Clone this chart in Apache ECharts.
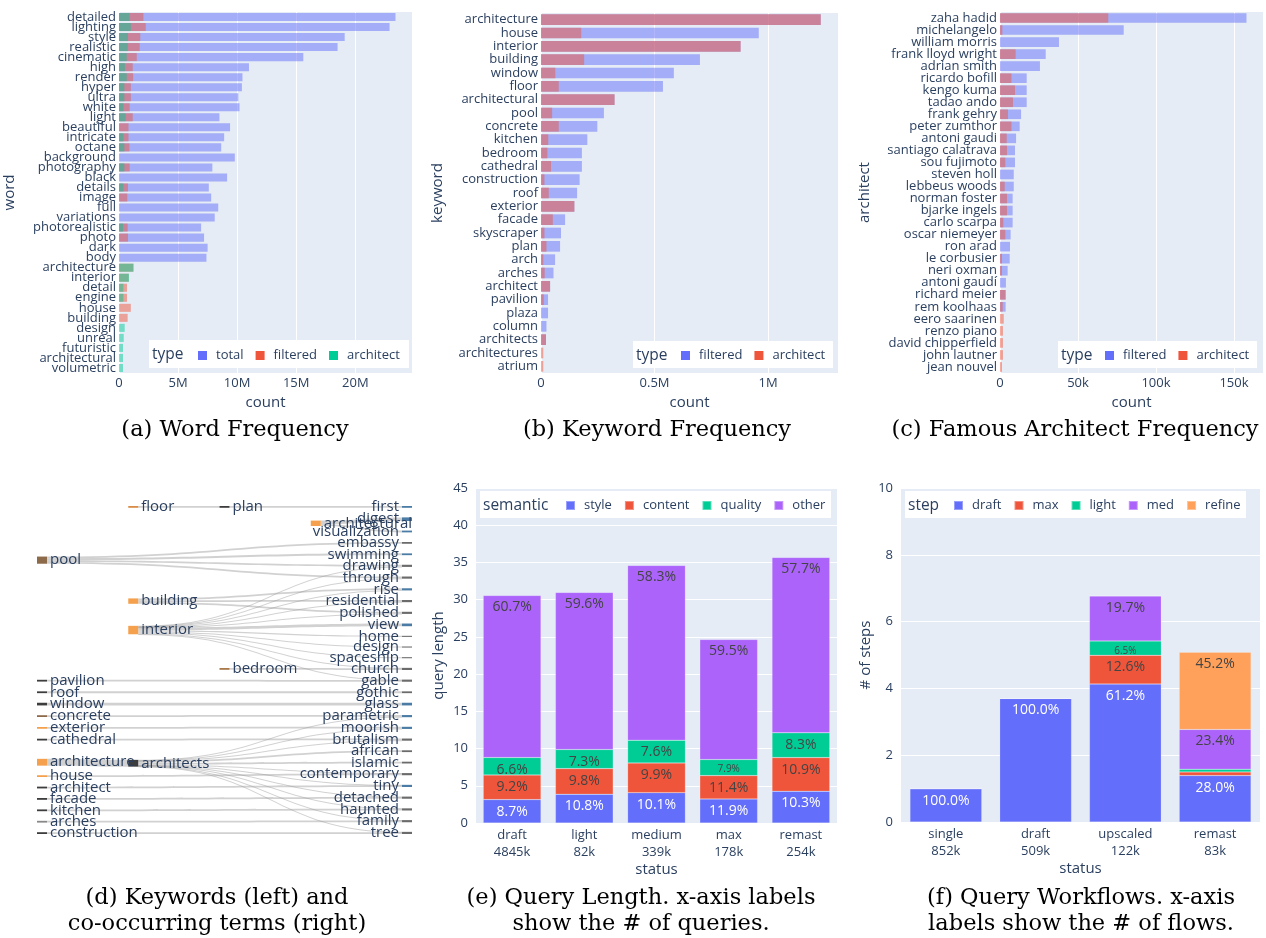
<!DOCTYPE html>
<html>
<head>
<meta charset="utf-8">
<script src="https://cdn.jsdelivr.net/npm/echarts@6/dist/echarts.min.js"></script>
<style>
  html, body { margin: 0; padding: 0; background: #fff; }
  #chart { width: 1266px; height: 938px; }
</style>
</head>
<body>
<div id="chart"></div>
<script>
// (a) word frequency, values in millions
var words = ['detailed', 'lighting', 'style', 'realistic', 'cinematic', 'high', 'render', 'hyper', 'ultra', 'white',
  'light', 'beautiful', 'intricate', 'octane', 'background', 'photography', 'black', 'details', 'image', 'full',
  'variations', 'photorealistic', 'photo', 'dark', 'body', 'architecture', 'interior', 'detail', 'engine', 'house',
  'building', 'design', 'unreal', 'futuristic', 'architectural', 'volumetric'];
var wordTotal = [23.4, 22.9, 19.1, 18.5, 15.6, 11.0, 10.45, 10.4, 10.1, 10.2,
  8.5, 9.4, 8.9, 8.65, 9.8, 7.9, 9.15, 7.6, 7.8, 8.4,
  8.1, 6.95, 7.2, 7.5, 7.4, 0, 0, 0, 0, 0,
  0, 0, 0, 0, 0, 0];
var wordFiltered = [2.06, 2.26, 1.8, 1.75, 1.5, 1.16, 1.19, 1.0, 1.0, 0.9,
  1.16, 0.8, 0.8, 0.88, 0, 0.9, 0, 0.76, 0.7, 0,
  0, 0.73, 0.76, 0, 0, 1.2, 0.82, 0.68, 0.68, 1.0,
  0.73, 0, 0, 0, 0, 0];
var wordArchitect = [0.9, 1.0, 0.76, 0.73, 0.65, 0.5, 0.65, 0.45, 0.45, 0.37,
  0.56, 0, 0.37, 0.45, 0, 0.45, 0, 0.37, 0, 0,
  0, 0.34, 0, 0, 0, 1.24, 0.85, 0.37, 0.37, 0,
  0, 0.48, 0.4, 0.34, 0.34, 0.34];

// (b) keyword frequency, values in millions
var keywords = ['architecture', 'house', 'interior', 'building', 'window', 'floor', 'architectural', 'pool', 'concrete', 'kitchen',
  'bedroom', 'cathedral', 'construction', 'roof', 'exterior', 'facade', 'skyscraper', 'plan', 'arch', 'arches',
  'architect', 'pavilion', 'plaza', 'column', 'architects', 'architectures', 'atrium'];
var kwFiltered = [1.232, 0.959, 0.879, 0.70, 0.585, 0.537, 0.324, 0.277, 0.248, 0.204,
  0.18, 0.18, 0.17, 0.159, 0.147, 0.106, 0.088, 0.084, 0.062, 0.055,
  0.04, 0.031, 0.031, 0.024, 0.022, 0, 0];
var kwArchitect = [1.232, 0.177, 0.879, 0.19, 0.063, 0.078, 0.324, 0.049, 0.078, 0.032,
  0.028, 0.044, 0.015, 0.034, 0.147, 0.052, 0.015, 0.024, 0.01, 0.016,
  0.04, 0.012, 0, 0, 0.022, 0.01, 0.01];

// (c) famous architect frequency, values in thousands
var architects = ['zaha hadid', 'michelangelo', 'william morris', 'frank lloyd wright', 'adrian smith', 'ricardo bofill',
  'kengo kuma', 'tadao ando', 'frank gehry', 'peter zumthor', 'antoni gaudi', 'santiago calatrava', 'sou fujimoto',
  'steven holl', 'lebbeus woods', 'norman foster', 'bjarke ingels', 'carlo scarpa', 'oscar niemeyer', 'ron arad',
  'le corbusier', 'neri oxman', 'antoni gaudí', 'richard meier', 'rem koolhaas', 'eero saarinen', 'renzo piano',
  'david chipperfield', 'john lautner', 'jean nouvel'];
var arFiltered = [158, 79.3, 37.8, 29.3, 25.6, 17.1, 17.1, 17.1, 13.5, 12.6,
  10.3, 9.6, 9.6, 8.8, 8.8, 8.1, 8.1, 8.1, 6.8, 6.4,
  6.2, 4.9, 3.8, 3.6, 3.6, 0, 0, 0, 0, 0];
var arArchitect = [69.4, 1.5, 0, 10, 0, 7.3, 9.6, 8.3, 5.1, 7.3,
  4.3, 4.5, 3.4, 0, 3.0, 4.5, 4.5, 2.1, 3.4, 0,
  1.3, 1.3, 0, 3.6, 1.7, 2.4, 1.9, 1.9, 1.9, 1.3];

// (d) keywords and co-occurring terms, one list per column
var coCols = [
  ['pool', 'pavilion', 'roof', 'window', 'concrete', 'exterior', 'cathedral', 'architecture', 'house',
    'architect', 'facade', 'kitchen', 'arches', 'construction'],
  ['floor', 'building', 'interior', 'architects'],
  ['plan', 'bedroom'],
  ['architectural'],
  ['first', 'digest', 'visualization', 'embassy', 'swimming', 'drawing', 'through', 'rise', 'residential',
    'polished', 'view', 'home', 'design', 'spaceship', 'church', 'gable', 'gothic', 'glass', 'parametric',
    'moorish', 'brutalism', 'african', 'islamic', 'contemporary', 'tiny', 'detached', 'haunted', 'family', 'tree']
];
var coLinks = [
  ['floor', 'plan', 1], ['plan', 'first', 1],
  ['architectural', 'digest', 2], ['architectural', 'visualization', 1],
  ['pool', 'embassy', 1], ['pool', 'swimming', 1], ['pool', 'drawing', 1], ['pool', 'through', 1],
  ['building', 'rise', 1], ['building', 'residential', 1], ['building', 'polished', 1],
  ['interior', 'view', 1.5], ['interior', 'home', 0.6], ['interior', 'design', 0.6], ['interior', 'spaceship', 0.6],
  ['interior', 'drawing', 0.2], ['interior', 'through', 0.2], ['interior', 'rise', 0.2],
  ['interior', 'residential', 0.2], ['interior', 'polished', 0.2], ['interior', 'church', 0.2], ['interior', 'gable', 0.2],
  ['bedroom', 'church', 1],
  ['pavilion', 'gable', 1], ['roof', 'gothic', 1], ['window', 'glass', 1.5], ['concrete', 'parametric', 1],
  ['exterior', 'moorish', 1], ['cathedral', 'brutalism', 1],
  ['architecture', 'architects', 3.8],
  ['architects', 'african', 1], ['architects', 'islamic', 1],
  ['architects', 'parametric', 0.2], ['architects', 'moorish', 0.2], ['architects', 'brutalism', 0.2],
  ['architects', 'contemporary', 0.2], ['architects', 'tiny', 0.2], ['architects', 'detached', 0.2],
  ['architects', 'haunted', 0.2], ['architects', 'family', 0.2], ['architects', 'tree', 0.2],
  ['house', 'contemporary', 1], ['architect', 'tiny', 1], ['facade', 'detached', 1], ['kitchen', 'haunted', 1],
  ['arches', 'family', 1], ['construction', 'tree', 1]
];

// (e) query length by status
var lenStatus = ['draft\n4845k', 'light\n82k', 'medium\n339k', 'max\n178k', 'remast\n254k'];
var lenStyle = [3.14, 3.86, 4.08, 3.23, 4.26];
var lenContent = [3.32, 3.45, 3.99, 3.14, 4.53];
var lenQuality = [2.33, 2.56, 3.05, 2.15, 3.32];
var lenOther = [21.77, 21.1, 23.48, 16.13, 23.56];
var lenStyleLbl = ['8.7%', '10.8%', '10.1%', '11.9%', '10.3%'];
var lenContentLbl = ['9.2%', '9.8%', '9.9%', '11.4%', '10.9%'];
var lenQualityLbl = ['6.6%', '7.3%', '7.6%', '7.9%', '8.3%'];
var lenOtherLbl = ['60.7%', '59.6%', '58.3%', '59.5%', '57.7%'];

// (f) query workflows
var flowStatus = ['single\n852k', 'draft\n509k', 'upscaled\n122k', 'remast\n83k'];
var stepDraft = [1.0, 3.70, 4.13, 1.39];
var stepMax = [0, 0, 0.86, 0.11];
var stepLight = [0, 0, 0.43, 0.08];
var stepMed = [0, 0, 1.35, 1.19];
var stepRefine = [0, 0, 0, 2.31];
var stepDraftLbl = ['100.0%', '100.0%', '61.2%', '28.0%'];
var stepMaxLbl = ['', '', '12.6%', ''];
var stepLightLbl = ['', '', '6.5%', ''];
var stepMedLbl = ['', '', '19.7%', '23.4%'];
var stepRefineLbl = ['', '', '', '45.2%'];

var FONT = "'Open Sans', verdana, arial, sans-serif";
var INK = '#2a3f5f';
var BG = '#E5ECF6';
var C = { blue: '#636EFA', red: '#EF553B', green: '#00CC96', purple: '#AB63FA', orange: '#FFA15A' };

var nodeColor = {
  architecture: '#F4A04C', house: '#F4A04C', exterior: '#F4A04C', floor: '#D88C45', building: '#F4A04C',
  interior: '#F4A04C', architectural: '#F4A04C', pool: '#8c6a4a', concrete: '#8c6a4a', bedroom: '#a87a4a',
  arches: '#888',
  first: '#4a7ca5', digest: '#4a7ca5', visualization: '#4a7ca5', swimming: '#4a7ca5', rise: '#4a7ca5',
  view: '#4a7ca5', glass: '#4a7ca5', parametric: '#4a7ca5', moorish: '#4a7ca5', tiny: '#4a7ca5'
};

function hbarGrid(left, top, width, height) {
  return { left: left, top: top, width: width, height: height, show: true, backgroundColor: BG, borderWidth: 0 };
}
function valueX(gridIndex, max, interval, fmt) {
  return {
    type: 'value', gridIndex: gridIndex, min: 0, max: max, interval: interval,
    name: 'count', nameLocation: 'middle', nameGap: 22,
    nameTextStyle: { color: INK, fontSize: 15, fontFamily: FONT },
    axisLine: { show: false }, axisTick: { show: false },
    axisLabel: { color: INK, fontSize: 13, margin: 4, showMaxLabel: false, formatter: fmt },
    splitLine: { lineStyle: { color: '#fff', width: 1 } }
  };
}
function catY(gridIndex, data, name, gap) {
  return {
    type: 'category', gridIndex: gridIndex, data: data, inverse: true,
    name: name, nameLocation: 'middle', nameGap: gap, nameRotate: 90,
    nameTextStyle: { color: INK, fontSize: 15, fontFamily: FONT },
    axisLine: { show: false }, axisTick: { show: false },
    axisLabel: { color: INK, fontSize: 13, margin: 3, interval: 0 },
    splitLine: { show: false }
  };
}
function overlayBar(name, xi, data, color) {
  return {
    type: 'bar', name: name, xAxisIndex: xi, yAxisIndex: xi, data: data,
    barGap: '-100%', barCategoryGap: '20%', silent: true,
    itemStyle: { color: color, opacity: 0.5 }
  };
}
function stackBar(name, xi, data, labels, color, lblColor, smallBelow, hideBelow) {
  return {
    type: 'bar', name: name, xAxisIndex: xi, yAxisIndex: xi, stack: 's' + xi, silent: true,
    barCategoryGap: '20%',
    itemStyle: { color: color, borderColor: 'rgba(255,255,255,0.35)', borderWidth: 0.5 },
    data: data.map(function (v, i) {
      return {
        value: v,
        label: { show: v >= hideBelow && labels[i] !== '', fontSize: v < smallBelow ? 10 : 14 }
      };
    }),
    label: {
      position: 'insideTop', distance: 5, color: lblColor, fontFamily: FONT,
      formatter: function (p) { return labels[p.dataIndex]; }
    }
  };
}
function catX(gridIndex, data) {
  return {
    type: 'category', gridIndex: gridIndex, data: data,
    name: 'status', nameLocation: 'middle', nameGap: 38,
    nameTextStyle: { color: INK, fontSize: 15, fontFamily: FONT },
    axisLine: { show: false }, axisTick: { show: false },
    axisLabel: { color: INK, fontSize: 13, margin: 4, interval: 0, lineHeight: 17 },
    splitLine: { show: false }
  };
}
function valueY(gridIndex, max, interval, name, gap) {
  return {
    type: 'value', gridIndex: gridIndex, min: 0, max: max, interval: interval,
    name: name, nameLocation: 'middle', nameGap: gap, nameRotate: 90,
    nameTextStyle: { color: INK, fontSize: 15, fontFamily: FONT },
    axisLine: { show: false }, axisTick: { show: false },
    axisLabel: { color: INK, fontSize: 13, margin: 8 },
    splitLine: { lineStyle: { color: '#fff', width: 1 } }
  };
}
// legend entries carry their own colour: the same series names repeat across panels
function legendAt(left, top, names, colors) {
  return {
    left: left, top: top, orient: 'horizontal', padding: 0, z: 20,
    data: names.map(function (n, i) { return { name: n, itemStyle: { color: colors[i], opacity: 1 } }; }),
    itemWidth: 9, itemHeight: 9, itemGap: 12, icon: 'rect', selectedMode: false,
    textStyle: { color: INK, fontSize: 13, fontFamily: FONT, padding: [0, 0, 0, 4] }
  };
}
function legendBox(x, y, w, h, title) {
  return [
    { type: 'rect', shape: { x: x, y: y, width: w, height: h }, style: { fill: '#fff' }, z: 1, silent: true },
    { type: 'text', z: 2, silent: true, style: { text: title, x: x + 3, y: y + h / 2 + 1, textVerticalAlign: 'middle', font: '15.5px ' + FONT, fill: INK } }
  ];
}
function caption(x, y, text) {
  return { type: 'text', silent: true, style: { text: text, x: x, y: y, textAlign: 'center', textVerticalAlign: 'middle', font: '22.5px "DejaVu Serif", serif', fill: '#000' } };
}

var sankeyData = [];
coCols.forEach(function (col, depth) {
  col.forEach(function (n) {
    var isSink = depth === coCols.length - 1;
    sankeyData.push({
      name: n, depth: depth,
      itemStyle: { color: nodeColor[n] || (isSink ? '#6b6b6b' : '#3d3d3d') },
      label: { position: isSink ? 'left' : 'right' }
    });
  });
});
var sankeyLinks = coLinks.map(function (l) { return { source: l[0], target: l[1], value: l[2] }; });

var graphics = []
  .concat(legendBox(149, 340, 260, 28, 'type'))
  .concat(legendBox(633, 341, 200, 27, 'type'))
  .concat(legendBox(1058, 341, 199, 27, 'type'))
  .concat(legendBox(480, 491, 351, 27, 'semantic'))
  .concat(legendBox(905, 491, 341, 27, 'step'))
  .concat([
    caption(235, 430, '(a) Word Frequency'),
    caption(657, 430, '(b) Keyword Frequency'),
    caption(1075, 430, '(c) Famous Architect Frequency'),
    caption(217, 898, '(d) Keywords (left) and'),
    caption(217, 924, 'co-occurring terms (right)'),
    caption(641, 898, '(e) Query Length. x-axis labels'),
    caption(641, 924, 'show the # of queries.'),
    caption(1081, 898, '(f) Query Workflows. x-axis'),
    caption(1081, 924, 'labels show the # of flows.')
  ]);

var option = {
  animation: false,
  backgroundColor: '#fff',
  textStyle: { fontFamily: FONT },
  grid: [
    hbarGrid(119, 12, 293, 361),
    hbarGrid(541, 13, 297, 360),
    hbarGrid(1000, 12, 263, 361),
    hbarGrid(476, 488, 361, 335),
    hbarGrid(901, 488, 359, 334)
  ],
  xAxis: [
    valueX(0, 24.8, 5, function (v) { return v === 0 ? '0' : v + 'M'; }),
    valueX(1, 1.308, 0.5, function (v) { return v === 0 ? '0' : v + 'M'; }),
    valueX(2, 168.6, 50, function (v) { return v === 0 ? '0' : v + 'k'; }),
    catX(3, lenStatus),
    catX(4, flowStatus)
  ],
  yAxis: [
    catY(0, words, 'word', 102),
    catY(1, keywords, 'keyword', 96),
    catY(2, architects, 'architect', 128),
    valueY(3, 45, 5, 'query length', 30),
    valueY(4, 10, 2, '# of steps', 28)
  ],
  legend: [
    legendAt(198, 349, ['total', 'filtered', 'architect'], [C.blue, C.red, C.green]),
    legendAt(681, 349, ['filtered', 'architect'], [C.blue, C.red]),
    legendAt(1105, 349, ['filtered', 'architect'], [C.blue, C.red]),
    legendAt(565, 499, ['style', 'content', 'quality', 'other'], [C.blue, C.red, C.green, C.purple]),
    legendAt(953, 499, ['draft', 'max', 'light', 'med', 'refine'], [C.blue, C.red, C.green, C.purple, C.orange])
  ],
  graphic: graphics,
  series: [
    overlayBar('total', 0, wordTotal, C.blue),
    overlayBar('filtered', 0, wordFiltered, C.red),
    overlayBar('architect', 0, wordArchitect, C.green),
    overlayBar('filtered', 1, kwFiltered, C.blue),
    overlayBar('architect', 1, kwArchitect, C.red),
    overlayBar('filtered', 2, arFiltered, C.blue),
    overlayBar('architect', 2, arArchitect, C.red),
    stackBar('style', 3, lenStyle, lenStyleLbl, C.blue, '#fff', 0, 0),
    stackBar('content', 3, lenContent, lenContentLbl, C.red, '#444', 0, 0),
    stackBar('quality', 3, lenQuality, lenQualityLbl, C.green, '#444', 2.2, 0),
    stackBar('other', 3, lenOther, lenOtherLbl, C.purple, '#444', 0, 0),
    stackBar('draft', 4, stepDraft, stepDraftLbl, C.blue, '#fff', 0, 0.2),
    stackBar('max', 4, stepMax, stepMaxLbl, C.red, '#444', 0.6, 0.2),
    stackBar('light', 4, stepLight, stepLightLbl, C.green, '#444', 0.6, 0.2),
    stackBar('med', 4, stepMed, stepMedLbl, C.purple, '#444', 0.6, 0.2),
    stackBar('refine', 4, stepRefine, stepRefineLbl, C.orange, '#444', 0.6, 0.2),
    {
      type: 'sankey', left: 37, top: 506, width: 375, height: 328,
      nodeWidth: 10, nodeGap: 9.6, draggable: false, silent: true,
      data: sankeyData, links: sankeyLinks,
      label: { color: INK, fontSize: 15, fontFamily: FONT, distance: 3 },
      lineStyle: { color: '#999', opacity: 0.45, curveness: 0.5 },
      itemStyle: { borderWidth: 0 },
      emphasis: { disabled: true }
    }
  ]
};

var chart = echarts.init(document.getElementById('chart'));
chart.setOption(option);
</script>
</body>
</html>
